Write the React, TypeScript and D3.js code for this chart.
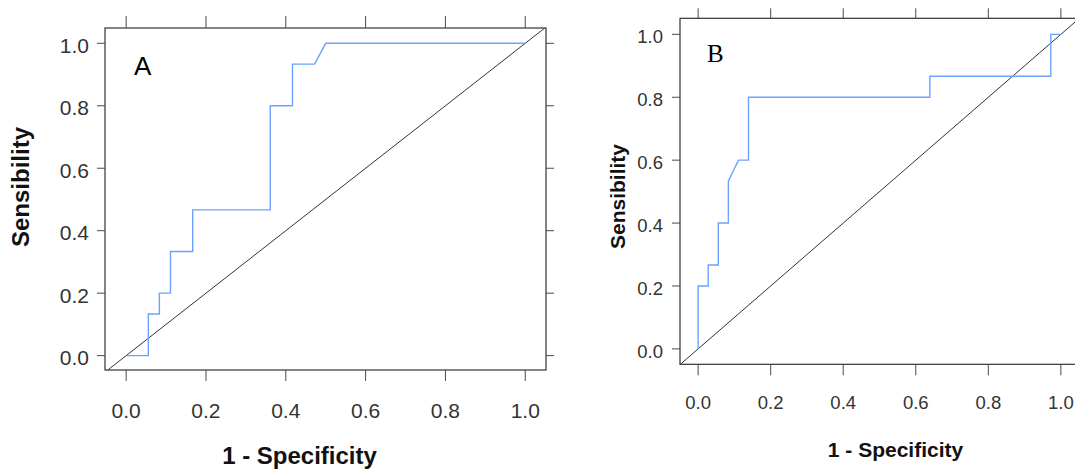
import React from "react";
import * as d3 from "d3";

// Panel A ROC curve (1 - specificity, sensitivity)
const fprA = [0, 0.0556, 0.0556, 0.0833, 0.0833, 0.1111, 0.1111, 0.1667, 0.1667, 0.3611, 0.3611, 0.4167, 0.4167, 0.4722, 0.5, 1];
const tprA = [0, 0, 0.1333, 0.1333, 0.2, 0.2, 0.3333, 0.3333, 0.4667, 0.4667, 0.8, 0.8, 0.9333, 0.9333, 1, 1];

// Panel B ROC curve
const fprB = [0, 0, 0.0278, 0.0278, 0.0556, 0.0556, 0.0833, 0.0833, 0.1111, 0.1389, 0.1389, 0.6389, 0.6389, 0.9722, 0.9722, 1];
const tprB = [0, 0.2, 0.2, 0.2667, 0.2667, 0.4, 0.4, 0.5333, 0.6, 0.6, 0.8, 0.8, 0.8667, 0.8667, 1, 1];

const tickValues = [0, 0.2, 0.4, 0.6, 0.8, 1.0];
const tickLabels = ["0.0", "0.2", "0.4", "0.6", "0.8", "1.0"];

const xTitle = "1 - Specificity";
const yTitle = "Sensibility";
const panelLabels = ["A", "B"];

type PanelCfg = {
  id: string;
  fpr: number[];
  tpr: number[];
  label: string;
  labelFont: string;
  labelSize: number;
  labelX: number;
  labelY: number;
  xDomain: [number, number];
  xRange: [number, number];
  yDomain: [number, number];
  yRange: [number, number];
  tickFont: number;
  yLabelRight: number;
  xLabelBaseline: number;
  titleFont: number;
  xTitleX: number;
  xTitleBaseline: number;
  yTitleX: number;
  yTitleY: number;
  tickLenX: number;
  tickLenTop: number;
  tickLenY: number;
};

const sans = "'Liberation Sans', Arial, Helvetica, sans-serif";

function Panel({ c }: { c: PanelCfg }) {
  const x = d3.scaleLinear().domain(c.xDomain).range(c.xRange);
  const y = d3.scaleLinear().domain(c.yDomain).range(c.yRange);
  const pts: [number, number][] = c.fpr.map((f, i) => [f, c.tpr[i]]);
  const line = d3
    .line<[number, number]>()
    .x((d) => x(d[0]))
    .y((d) => y(d[1]));
  const [x0, x1] = c.xRange;
  const [yb, yt] = c.yRange;
  const dLo = Math.max(c.xDomain[0], c.yDomain[0]);
  const dHi = Math.min(c.xDomain[1], c.yDomain[1]);
  const tickColor = "#4a4a4a";
  return (
    <g>
      <defs>
        <clipPath id={`clip-${c.id}`}>
          <rect x={x0} y={yt} width={x1 - x0} height={yb - yt} />
        </clipPath>
      </defs>
      <g clipPath={`url(#clip-${c.id})`}>
        <line x1={x(dLo)} y1={y(dLo)} x2={x(dHi)} y2={y(dHi)} stroke="#333" strokeWidth={1} />
        <path d={line(pts) || ""} fill="none" stroke="#6aa3ff" strokeWidth={1.4} />
      </g>
      <rect x={x0} y={yt} width={x1 - x0} height={yb - yt} fill="none" stroke="#333" strokeWidth={1.2} />
      {tickValues.map((v, i) => (
        <g key={`xt${i}`}>
          <line x1={x(v)} x2={x(v)} y1={yb} y2={yb + c.tickLenX} stroke={tickColor} strokeWidth={1} />
          <line x1={x(v)} x2={x(v)} y1={yt} y2={yt - c.tickLenTop} stroke={tickColor} strokeWidth={1} />
          <text
            x={x(v)}
            y={c.xLabelBaseline}
            textAnchor="middle"
            fontFamily={sans}
            fontSize={c.tickFont}
            fill="#333"
          >
            {tickLabels[i]}
          </text>
        </g>
      ))}
      {tickValues.map((v, i) => (
        <g key={`yt${i}`}>
          <line x1={x0} x2={x0 - c.tickLenY} y1={y(v)} y2={y(v)} stroke={tickColor} strokeWidth={1} />
          <line x1={x1} x2={x1 + c.tickLenY} y1={y(v)} y2={y(v)} stroke={tickColor} strokeWidth={1} />
          <text
            x={c.yLabelRight}
            y={y(v) + c.tickFont * 0.36 + 2}
            textAnchor="end"
            fontFamily={sans}
            fontSize={c.tickFont}
            fill="#333"
          >
            {tickLabels[i]}
          </text>
        </g>
      ))}
      <text
        x={c.xTitleX}
        y={c.xTitleBaseline}
        textAnchor="middle"
        fontFamily={sans}
        fontWeight="bold"
        fontSize={c.titleFont}
        fill="#111"
      >
        {xTitle}
      </text>
      <text
        transform={`translate(${c.yTitleX},${c.yTitleY}) rotate(-90)`}
        textAnchor="middle"
        fontFamily={sans}
        fontWeight="bold"
        fontSize={c.titleFont}
        fill="#111"
      >
        {yTitle}
      </text>
      <text x={c.labelX} y={c.labelY} fontFamily={c.labelFont} fontSize={c.labelSize} fill="#000">
        {c.label}
      </text>
    </g>
  );
}

const panelA: PanelCfg = {
  id: "a",
  fpr: fprA,
  tpr: tprA,
  label: panelLabels[0],
  labelFont: sans,
  labelSize: 26,
  labelX: 134,
  labelY: 75,
  xDomain: [-0.053, 1.052],
  xRange: [105, 546],
  yDomain: [-0.046, 1.049],
  yRange: [370, 28],
  tickFont: 21,
  yLabelRight: 89,
  xLabelBaseline: 418,
  titleFont: 24,
  xTitleX: 299.5,
  xTitleBaseline: 464,
  yTitleX: 29,
  yTitleY: 187,
  tickLenX: 11,
  tickLenTop: 12,
  tickLenY: 8,
};

const panelB: PanelCfg = {
  id: "b",
  fpr: fprB,
  tpr: tprB,
  label: panelLabels[1],
  labelFont: "'Liberation Serif', 'Times New Roman', serif",
  labelSize: 25,
  labelX: 707,
  labelY: 62,
  xDomain: [-0.05, 1.05],
  xRange: [680, 1079],
  yDomain: [-0.049, 1.051],
  yRange: [364.3, 18.3],
  tickFont: 18.5,
  yLabelRight: 663,
  xLabelBaseline: 409,
  titleFont: 21,
  xTitleX: 895.5,
  xTitleBaseline: 456.5,
  yTitleX: 625,
  yTitleY: 196.5,
  tickLenX: 11,
  tickLenTop: 10,
  tickLenY: 8,
};

export default function App() {
  return (
    <svg
      width={1075}
      height={470}
      viewBox="0 0 1075 470"
      style={{ position: "absolute", left: 0, top: 0, background: "#fff", overflow: "hidden" }}
    >
      <rect x={0} y={0} width={1075} height={470} fill="#fff" />
      <Panel c={panelA} />
      <Panel c={panelB} />
    </svg>
  );
}
